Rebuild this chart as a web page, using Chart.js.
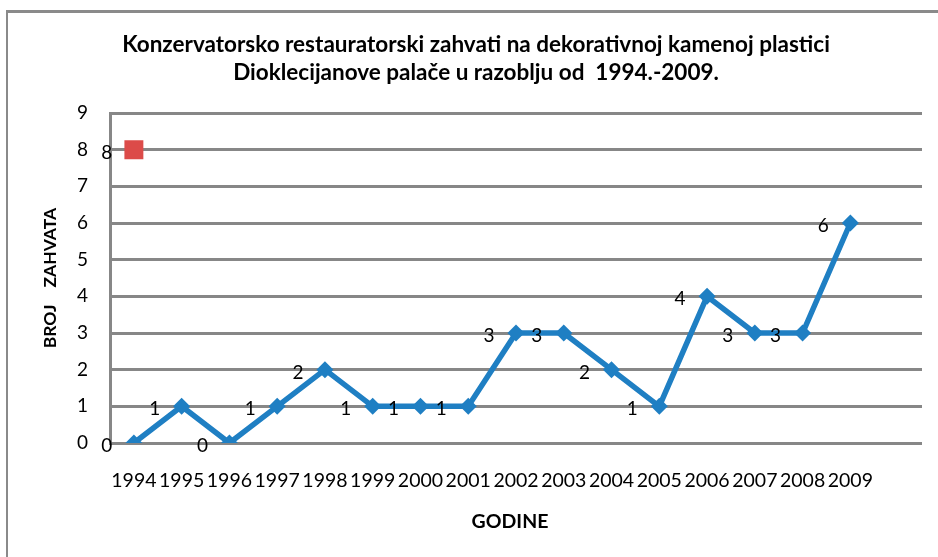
<!DOCTYPE html>
<html>
<head>
<meta charset="utf-8">
<script src="https://cdn.jsdelivr.net/npm/chart.js@4/dist/chart.umd.min.js"></script>
<style>
  html, body { margin: 0; padding: 0; background: #ffffff; }
  #wrap { position: relative; width: 938px; height: 557px; }
  #frame { position: absolute; left: 6px; top: 10px; width: 940px; height: 560px;
           border-left: 2px solid #8a8a8a; border-top: 3px solid #8a8a8a; box-sizing: border-box; }
  canvas { position: absolute; left: 0; top: 0; }
</style>
</head>
<body>
<div id="wrap">
  <div id="frame"></div>
  <canvas id="c" width="938" height="557"></canvas>
</div>
<script>
const titleLines = [
  "Konzervatorsko restauratorski zahvati na dekorativnoj kamenoj plastici",
  "Dioklecijanove palače u razoblju od  1994.-2009."
];
const years = ["1994","1995","1996","1997","1998","1999","2000","2001","2002","2003","2004","2005","2006","2007","2008","2009",""];
const zahvati = [0,1,0,1,2,1,1,1,3,3,2,1,4,3,3,6];
const extraPoint = [8];
const yTicks = [0,1,2,3,4,5,6,7,8,9];
const yTitle = "BROJ    ZAHVATA";
const xTitle = "GODINE";

const FONT = "Lato, 'Open Sans', sans-serif";

const labelPlugin = {
  id: 'pointLabels',
  afterDatasetsDraw(chart) {
    const ctx = chart.ctx;
    ctx.save();
    ctx.font = "19px " + FONT;
    ctx.fillStyle = "#000000";
    ctx.textAlign = "center";
    ctx.textBaseline = "middle";
    chart.data.datasets.forEach((ds, i) => {
      const meta = chart.getDatasetMeta(i);
      meta.data.forEach((pt, j) => {
        const v = ds.data[j];
        if (v === null || v === undefined) return;
        ctx.fillText(String(v), pt.x - 27, pt.y + 3);
      });
    });
    ctx.restore();
  }
};

const axisTitlePlugin = {
  id: 'axisTitles',
  afterDraw(chart) {
    const ctx = chart.ctx;
    const a = chart.chartArea;
    ctx.save();
    ctx.fillStyle = "#000000";
    ctx.textAlign = "center";
    ctx.textBaseline = "middle";
    ctx.font = "bold 17.5px " + FONT;
    ctx.translate(a.left - 60, (a.top + a.bottom) / 2);
    ctx.rotate(-Math.PI / 2);
    ctx.fillText(yTitle, 0, 0);
    ctx.restore();
    ctx.save();
    ctx.fillStyle = "#000000";
    ctx.textAlign = "center";
    ctx.textBaseline = "middle";
    ctx.font = "bold 19.5px " + FONT;
    ctx.fillText(xTitle, (a.left + a.right) / 2 - 6, a.bottom + 79);
    ctx.restore();
  }
};

new Chart(document.getElementById('c'), {
  type: 'line',
  data: {
    labels: years,
    datasets: [
      {
        data: zahvati,
        borderColor: '#1f7fc3',
        backgroundColor: '#1f7fc3',
        borderWidth: 5.5,
        pointStyle: 'rectRot',
        pointRadius: 8.5,
        pointHoverRadius: 8.5,
        pointBorderWidth: 0,
        tension: 0,
        order: 2
      },
      {
        data: extraPoint,
        showLine: false,
        borderColor: '#dc4b49',
        backgroundColor: '#dc4b49',
        pointStyle: 'rect',
        pointRadius: 13.4,
        pointHoverRadius: 13.4,
        pointBorderWidth: 0,
        order: 1
      }
    ]
  },
  options: {
    responsive: false,
    animation: false,
    devicePixelRatio: 1,
    layout: { padding: { left: 30, right: 16, top: 0, bottom: 0 } },
    plugins: {
      legend: { display: false },
      tooltip: { enabled: false },
      title: {
        display: true,
        text: titleLines,
        color: '#000000',
        font: { family: FONT, size: 22.5, weight: 'bold', lineHeight: 1.245 },
        padding: { top: 31, bottom: 26 }
      }
    },
    scales: {
      x: {
        offset: true,
        grid: { display: false, drawTicks: false },
        border: { display: false },
        ticks: {
          color: '#000000',
          font: { family: FONT, size: 19.5 },
          padding: 26,
          maxRotation: 0,
          autoSkip: false
        },
        afterFit(s) { s.height = 114; }
      },
      y: {
        min: 0,
        max: 9,
        afterBuildTicks(s) { s.ticks = yTicks.map(v => ({ value: v })); },
        grid: { color: '#878787', lineWidth: 3, drawTicks: false },
        border: { display: true, color: '#878787', width: 3 },
        ticks: {
          color: '#000000',
          font: { family: FONT, size: 19 },
          padding: 22
        },
        afterFit(s) { s.width = 80; }
      }
    }
  },
  plugins: [labelPlugin, axisTitlePlugin]
});
</script>
</body>
</html>
